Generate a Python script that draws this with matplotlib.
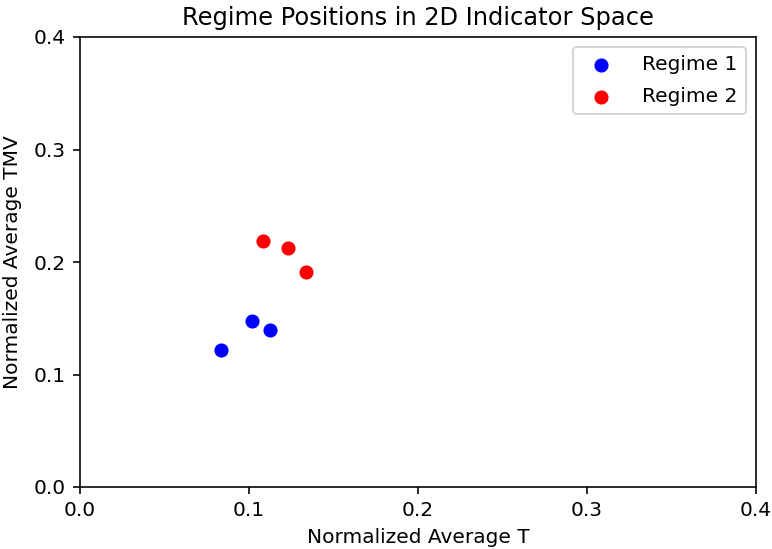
import matplotlib.pyplot as plt

regime1_t = [0.0834, 0.1016, 0.1127]
regime1_tmv = [0.1218, 0.1476, 0.1396]
regime2_t = [0.1085, 0.1233, 0.1335]
regime2_tmv = [0.2187, 0.2124, 0.1914]

dpi = 145
fig = plt.figure(figsize=(772 / dpi, 549 / dpi), dpi=dpi)
fig.subplots_adjust(left=80 / 772, right=756 / 772, bottom=62 / 549, top=512 / 549)
ax = fig.add_subplot(111)

ax.scatter(regime1_t, regime1_tmv, color='blue', label='Regime 1')
ax.scatter(regime2_t, regime2_tmv, color='red', label='Regime 2')

ax.set_xlim(0, 0.4)
ax.set_ylim(0, 0.4)
ax.set_xticks([0.0, 0.1, 0.2, 0.3, 0.4])
ax.set_yticks([0.0, 0.1, 0.2, 0.3, 0.4])
ax.set_xlabel('Normalized Average T')
ax.set_ylabel('Normalized Average TMV', labelpad=6)
ax.set_title('Regime Positions in 2D Indicator Space')
ax.legend(handletextpad=1.05, labelspacing=0.65)

fig.savefig('out.png', dpi=dpi)
